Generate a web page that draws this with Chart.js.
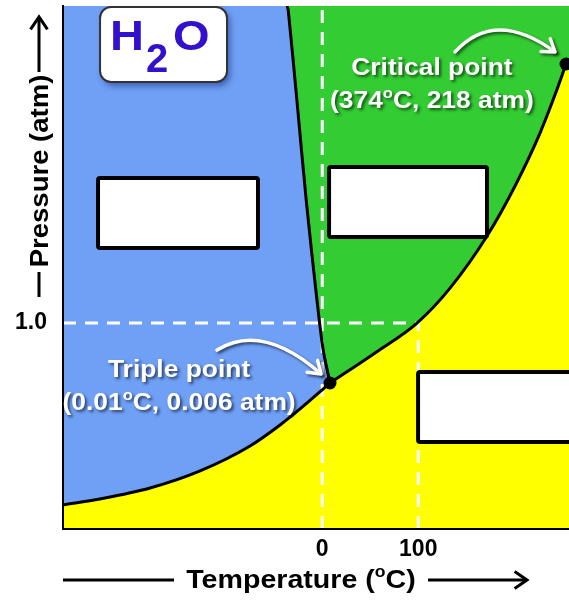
<!DOCTYPE html>
<html>
<head>
<meta charset="utf-8">
<script src="https://cdn.jsdelivr.net/npm/chart.js@4.4.1/dist/chart.umd.min.js"></script>
<style>
  html, body { margin: 0; padding: 0; background: #fff; }
  canvas { display: block; }
</style>
</head>
<body>
<canvas id="phaseChart" width="569" height="600"></canvas>
<script>
// schematic diagram: values in plot units
const tempTicks = [0, 100];
const pressTicks = [1.0];
const tempRange = [-270, 257];
const pressRange = [0, 2.54];

const sublimationT = [-270, -231.4, -179.3, -127.2, -75.2, -43.9, -23.1, 8.1];
const sublimationP = [0.117, 0.146, 0.199, 0.282, 0.403, 0.505, 0.583, 0.709];
const vaporT = [8.1, 55, 98.7, 133.1, 171.6, 200.8, 226.8, 243.5, 253.9];
const vaporP = [0.709, 0.855, 1.0, 1.17, 1.423, 1.666, 1.923, 2.122, 2.258];
const meltT = [8.1, 1, -5.5, -16.7, -26.4, -35.4, -36.5];
const meltP = [0.709, 0.869, 1.112, 1.597, 2.083, 2.519, 2.54];
const triplePoint = [8.1, 0.709];
const criticalPoint = [253.9, 2.258];
const refTemps = [0, 100];
const refPress = 1.0;

const FONT = '"Liberation Sans", Arial, sans-serif';
const STRETCH = 1.1;
const BLUE = '#6fa0f6', GREEN = '#33cc33', YELLOW = '#ffff00';

const pts = (xs, ys) => xs.map((v, i) => ({x: v, y: ys[i]}));
const [x0, x1] = tempRange, [y0, y1] = pressRange;
const melt = pts(meltT, meltP);
const sub = pts(sublimationT, sublimationP);
const vap = pts(vaporT, vaporP);

const solidPoly = [{x: x0, y: y1}, ...melt.slice().reverse(), ...sub.slice().reverse()];
const liquidPoly = [...melt.slice().reverse(), ...vap.slice(1),
  {x: x1, y: criticalPoint[1]}, {x: x1, y: y1}];
const gasPoly = [{x: x0, y: y0}, ...sub, ...vap.slice(1),
  {x: x1, y: criticalPoint[1]}, {x: x1, y: y0}];

// empty answer boxes and labels (plot units)
const blankBoxes = [[-233.5, 1.705, -66.9, 1.365], [7.1, 1.758, 171.6, 1.418], [99.8, 0.762, 268.5, 0.423]];
const formulaBox = [-231.4, 2.535, -99.2, 2.171];
const notes = [
  {x: 114.2, lines: [[2.205, [['Critical point']]], [2.045, [['(374'], ['o', 1], ['C, 218 atm)']]]],
   arrow: [[138.3, 2.317], [180, 2.53], [242.4, 2.317]]},
  {x: -149.1, lines: [[0.738, [['Triple point']]], [0.578, [['(0.01'], ['o', 1], ['C, 0.006 atm)']]]],
   arrow: [[-109.6, 0.869], [-62.7, 1.005], [-1.25, 0.753]]}
];

function stretched(ctx, t, x, y, k) {
  ctx.save();
  ctx.translate(x, y);
  ctx.scale(k, 1);
  ctx.fillText(t, 0, 0);
  ctx.restore();
}

function richText(ctx, parts, cx, base, size) {
  const big = `bold ${size}px ${FONT}`, small = `bold ${Math.round(size * 0.62)}px ${FONT}`;
  let w = 0;
  parts.forEach(([t, s]) => { ctx.font = s ? small : big; w += ctx.measureText(t).width * STRETCH; });
  let xx = cx - w / 2;
  ctx.textAlign = 'left';
  ctx.textBaseline = 'alphabetic';
  parts.forEach(([t, s]) => {
    ctx.font = s ? small : big;
    stretched(ctx, t, xx, s ? base - size * 0.42 : base, STRETCH);
    xx += ctx.measureText(t).width * STRETCH;
  });
}

function chevron(ctx, tx, ty, ang, len, spread) {
  ctx.beginPath();
  ctx.moveTo(tx - len * Math.cos(ang - spread), ty - len * Math.sin(ang - spread));
  ctx.lineTo(tx, ty);
  ctx.lineTo(tx - len * Math.cos(ang + spread), ty - len * Math.sin(ang + spread));
  ctx.stroke();
}

const overlay = {
  id: 'overlay',
  afterDraw(chart) {
    const {ctx, chartArea: ca, scales: {x, y}} = chart;
    const P = (a, b) => [x.getPixelForValue(a), y.getPixelForValue(b)];
    ctx.save();

    blankBoxes.forEach(b => {
      const [l, t] = P(b[0], b[1]), [r, bt] = P(b[2], b[3]);
      ctx.beginPath();
      ctx.roundRect(l, t, r - l, bt - t, 2);
      ctx.fillStyle = '#fff';
      ctx.fill();
      ctx.lineWidth = 4;
      ctx.strokeStyle = '#000';
      ctx.stroke();
    });

    // H2O tag
    const [fl, ft] = P(formulaBox[0], formulaBox[1]), [fr, fb] = P(formulaBox[2], formulaBox[3]);
    ctx.save();
    ctx.shadowColor = 'rgba(20,40,110,0.55)';
    ctx.shadowBlur = 6; ctx.shadowOffsetX = 3; ctx.shadowOffsetY = 4;
    ctx.beginPath();
    ctx.roundRect(fl, ft, fr - fl, fb - ft, 11);
    ctx.fillStyle = '#fff';
    ctx.fill();
    ctx.restore();
    ctx.lineWidth = 2;
    ctx.strokeStyle = '#333';
    ctx.stroke();
    ctx.fillStyle = '#3311cc';
    ctx.textAlign = 'left';
    ctx.textBaseline = 'alphabetic';
    ctx.font = `bold 42px ${FONT}`;
    stretched(ctx, 'H', fl + 10, ft + 43, 1.12);
    stretched(ctx, 'O', fl + 73, ft + 43, 1.12);
    ctx.font = `bold 40px ${FONT}`;
    ctx.fillText('2', fl + 46, ft + 65);

    // annotations
    notes.forEach(n => {
      ctx.save();
      ctx.shadowColor = 'rgba(0,0,0,0.6)';
      ctx.shadowBlur = 3; ctx.shadowOffsetX = 2; ctx.shadowOffsetY = 2;
      ctx.fillStyle = '#fff';
      n.lines.forEach(([py, parts]) => {
        const [cx, by] = P(n.x, py);
        richText(ctx, parts, cx, by, 24);
      });
      const [s, c, e] = n.arrow.map(p => P(p[0], p[1]));
      ctx.strokeStyle = '#fff';
      ctx.lineWidth = 3.5;
      ctx.lineCap = 'round';
      ctx.lineJoin = 'round';
      ctx.beginPath();
      ctx.moveTo(s[0], s[1]);
      ctx.quadraticCurveTo(c[0], c[1], e[0], e[1]);
      ctx.stroke();
      chevron(ctx, e[0], e[1], Math.atan2(e[1] - c[1], e[0] - c[0]), 14, 0.6);
      ctx.restore();
    });

    // axis titles with arrows
    ctx.fillStyle = '#000';
    ctx.strokeStyle = '#000';
    ctx.lineWidth = 3;
    ctx.lineCap = 'butt';
    const ty = ca.bottom + 51;
    ctx.beginPath();
    ctx.moveTo(ca.left, ty); ctx.lineTo(ca.left + 111, ty);
    ctx.moveTo(ca.left + 365, ty); ctx.lineTo(ca.left + 463, ty);
    ctx.stroke();
    chevron(ctx, ca.left + 464, ty, 0, 15, 0.6);
    richText(ctx, [['Temperature ('], ['o', 1], ['C)']], ca.left + 238, ca.bottom + 59, 26);

    const ax = 39;
    ctx.beginPath();
    ctx.moveTo(ax, 297); ctx.lineTo(ax, 272);
    ctx.moveTo(ax, 72); ctx.lineTo(ax, 18);
    ctx.stroke();
    chevron(ctx, ax, 17, -Math.PI / 2, 15, 0.6);
    ctx.save();
    ctx.translate(48, 171);
    ctx.rotate(-Math.PI / 2);
    ctx.scale(STRETCH, 1);
    ctx.font = `bold 25px ${FONT}`;
    ctx.textAlign = 'center';
    ctx.fillText('Pressure (atm)', 0, 0);
    ctx.restore();

    ctx.restore();
  }
};

const line = (data, color, width, extra) => Object.assign({
  data, showLine: true, borderColor: color, borderWidth: width,
  pointRadius: 0, fill: false, tension: 0
}, extra || {});

const poly = (data, color) => ({
  data, showLine: true, borderWidth: 0, pointRadius: 0,
  backgroundColor: color, fill: 'shape', tension: 0
});

const dash = {borderDash: [13, 9]};
const smooth = {cubicInterpolationMode: 'monotone'};

new Chart(document.getElementById('phaseChart'), {
  type: 'scatter',
  data: {
    datasets: [
      {data: [{x: triplePoint[0], y: triplePoint[1]}, {x: criticalPoint[0], y: criticalPoint[1]}],
       pointRadius: 6.5, pointBackgroundColor: '#000', pointBorderWidth: 0, showLine: false, clip: false},
      line(melt, '#000', 3, {tension: 0.3}),
      line(sub, '#000', 3, smooth),
      line(vap, '#000', 3, smooth),
      line([{x: refTemps[0], y: y0}, {x: refTemps[0], y: y1}], '#fff', 3, dash),
      line([{x: x0, y: refPress}, {x: refTemps[1], y: refPress}], '#fff', 3, dash),
      line([{x: refTemps[1], y: y0}, {x: refTemps[1], y: refPress}], '#fff', 3, dash),
      poly(solidPoly, BLUE),
      poly(liquidPoly, GREEN),
      poly(gasPoly, YELLOW)
    ]
  },
  options: {
    responsive: false,
    animation: false,
    layout: {autoPadding: false, padding: {top: 6, right: 0, left: 0, bottom: 0}},
    plugins: {legend: {display: false}, tooltip: {enabled: false}},
    scales: {
      x: {
        type: 'linear', min: x0, max: x1,
        afterBuildTicks: s => { s.ticks = tempTicks.map(v => ({value: v})); },
        afterFit: s => { s.height = 71; s.paddingLeft = 0; s.paddingRight = 0; },
        grid: {display: false, drawTicks: false},
        border: {color: '#000', width: 2, z: 1},
        ticks: {color: '#000', padding: 7, font: {family: FONT, size: 23, weight: 'bold'},
                callback: v => String(v)}
      },
      y: {
        type: 'linear', min: y0, max: y1,
        afterBuildTicks: s => { s.ticks = pressTicks.map(v => ({value: v})); },
        afterFit: s => { s.width = 63; s.paddingTop = 0; s.paddingBottom = 0; },
        grid: {display: false, drawTicks: false},
        border: {color: '#000', width: 2, z: 1},
        ticks: {color: '#000', padding: 16, font: {family: FONT, size: 23, weight: 'bold'},
                callback: v => Number(v).toFixed(1)}
      }
    }
  },
  plugins: [overlay]
});
</script>
</body>
</html>
